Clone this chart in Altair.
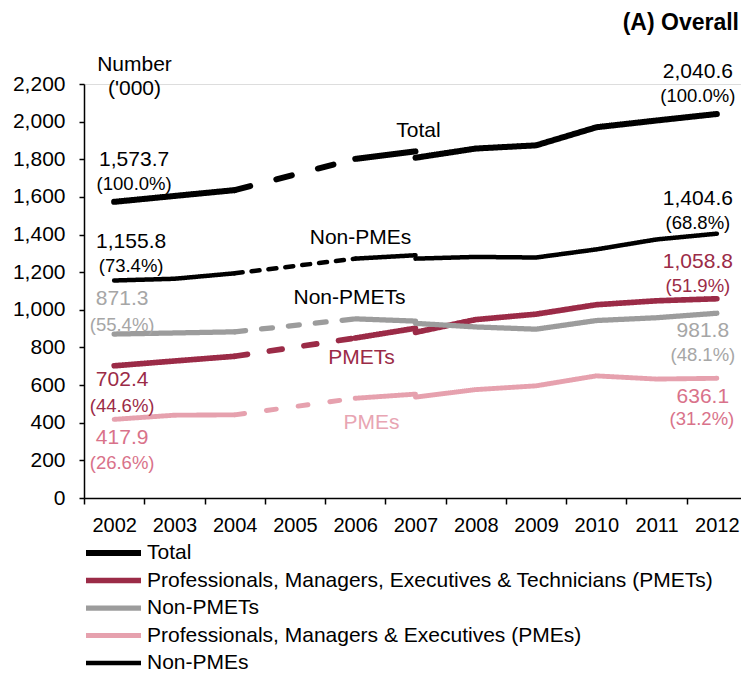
import altair as alt
import pandas as pd

# ---------------- data ----------------
years_old = [2002, 2003, 2004, 2006, 2007]
years_new = [2007, 2008, 2009, 2010, 2011, 2012]

series_names = [
    "Total",
    "Professionals, Managers, Executives & Technicians (PMETs)",
    "Non-PMETs",
    "Professionals, Managers & Executives (PMEs)",
    "Non-PMEs",
]
short_names = ["Total", "PMETs", "Non-PMETs", "PMEs", "Non-PMEs"]

total_old = [1573.7, 1605, 1636, 1802, 1842]
total_new = [1808, 1857, 1874, 1970, 2006, 2040.6]
pmets_old = [702.4, 728, 753, 850, 902]
pmets_new = [880, 948, 977, 1027, 1048, 1058.8]
nonpmets_old = [871.3, 877, 883, 952, 940]
nonpmets_new = [928, 909, 897, 943, 958, 981.8]
pmes_old = [417.9, 440, 442, 530, 552]
pmes_new = [536, 576, 596, 649, 632, 636.1]
nonpmes_old = [1155.8, 1165, 1194, 1272, 1290]
nonpmes_new = [1272, 1281, 1278, 1321, 1374, 1404.6]

olds = [total_old, pmets_old, nonpmets_old, pmes_old, nonpmes_old]
news = [total_new, pmets_new, nonpmets_new, pmes_new, nonpmes_new]

# ---------------- styles ----------------
FONT = "Liberation Sans"
line_colors = ["#000000", "#9b2b47", "#9c9c9c", "#e6a1ae", "#000000"]
line_widths = [6, 4.5, 3.5, 4.5, 2]
dash_patterns = [[16, 27], [13, 22], [11, 16], [10, 22], [8, 9]]
label_colors = ["#000000", "#9b2b47", "#a6a6a6", "#d9728a", "#000000"]
name_colors = ["#000000", "#9b2b47", "#000000", "#e8a5b3", "#000000"]
NUM_FS, PCT_FS, NAME_FS = 21, 18.5, 21

W, H = 663, 414
X0, X1 = 2001.5, 2012.5
Y0, Y1 = 0, 2200
PX_YEAR = W / (X1 - X0)
PX_UNIT = H / (Y1 - Y0)

# ---------------- line table ----------------
rows = []
for i, name in enumerate(series_names):
    old, new = olds[i], news[i]
    segs = [
        ("a", years_old[0:3], old[0:3], "solid"),
        ("b", years_old[2:4], old[2:4], short_names[i] + " dash"),
        ("c", years_old[3:5], old[3:5], "solid"),
        ("d", years_new, new, "solid"),
    ]
    for seg, ys, vs, dk in segs:
        for y, v in zip(ys, vs):
            rows.append({"series": name, "seg": f"{i}{seg}", "year": y,
                         "value": v, "dash": dk})
df = pd.DataFrame(rows)

dash_domain = ["solid"] + [s + " dash" for s in short_names]
dash_range = [[1, 0]] + dash_patterns

# ---------------- annotations (anchored to data points, pixel offsets) ----------------
def fmt_num(v):
    return f"{v:,.1f}"

ann_rows = []
# (series index, which end, number dx, number dy, pct dx, pct dy)
ends = [
    (0, "start", 20, -42, 20, -18),
    (4, "start", 17, -38, 17, -14),
    (2, "start", 8, -35, 8, -9),
    (1, "start", 8, 14, 8, 40),
    (3, "start", 8, 19, 8, 44),
    (0, "end", -19, -42, -19, -18),
    (4, "end", -19, -35, -19, -11),
    (1, "end", -19, -37, -19, -13),
    (2, "end", -14, 18, -14, 42),
    (3, "end", -14, 19, -15, 41),
]
for si, end, ndx, ndy, pdx, pdy in ends:
    if end == "start":
        yr, val, tot = years_old[0], olds[si][0], total_old[0]
    else:
        yr, val, tot = years_new[-1], news[si][-1], total_new[-1]
    pct = f"({val / tot * 100:.1f}%)"
    ann_rows.append({"label": fmt_num(val), "year": yr + ndx / PX_YEAR,
                     "value": val - ndy / PX_UNIT, "tcol": label_colors[si], "fs": NUM_FS})
    ann_rows.append({"label": pct, "year": yr + pdx / PX_YEAR,
                     "value": val - pdy / PX_UNIT, "tcol": label_colors[si], "fs": PCT_FS})

# series name labels anchored to the 2007 (old series) point
names_pos = [(0, 3, -20), (4, -55, -17), (2, -66, -23), (1, -54, 30), (3, -44, 29)]
for si, dx, dy in names_pos:
    yr, val = years_old[-1], olds[si][-1]
    ann_rows.append({"label": short_names[si], "year": yr + dx / PX_YEAR,
                     "value": val - dy / PX_UNIT, "tcol": name_colors[si], "fs": NAME_FS})
ann_df = pd.DataFrame(ann_rows)

# ---------------- scales / axes ----------------
xscale = alt.Scale(domain=[X0, X1], nice=False, zero=False)
yscale = alt.Scale(domain=[Y0, Y1], nice=False)

xaxis = alt.Axis(
    values=[X0 + i for i in range(12)],
    labelExpr="datum.value < 2012 ? format(datum.value + 0.5, 'd') : ''",
    labelOffset=PX_YEAR / 2, title=None, grid=False,
    domainColor="black", domainWidth=1.5, tickColor="black", tickWidth=1.5, tickSize=6,
    labelFont=FONT, labelFontSize=20, labelColor="black", labelPadding=11,
    labelOverlap=False, labelFlush=False, labelBound=False,
)
yaxis = alt.Axis(
    values=list(range(0, 2201, 200)), format=",.0f", grid=False,
    title=["Number", "('000)"], titleAngle=0, titleAlign="center",
    titleBaseline="alphabetic", titleX=50, titleY=-14, titleFont=FONT,
    titleFontSize=21, titleFontWeight="normal", titleColor="black", titleLineHeight=24,
    domainColor="black", domainWidth=1.5, tickColor="black", tickWidth=1.5, tickSize=5,
    labelFont=FONT, labelFontSize=21, labelColor="black", labelPadding=14,
)

legend = alt.Legend(
    title=None, orient="none", legendX=-1, legendY=459, direction="vertical",
    symbolType="stroke", symbolSize=3025, clipHeight=20, rowPadding=6.5,
    labelFont=FONT, labelFontSize=21, labelColor="black", labelLimit=700,
    labelOffset=3, symbolOffset=0, padding=0,
)

lines = alt.Chart(df).mark_line(strokeCap="round", strokeJoin="round").encode(
    x=alt.X("year:Q", scale=xscale, axis=xaxis),
    y=alt.Y("value:Q", scale=yscale, axis=yaxis),
    color=alt.Color("series:N", sort=series_names,
                    scale=alt.Scale(domain=series_names, range=line_colors), legend=legend),
    strokeWidth=alt.StrokeWidth("series:N", sort=series_names,
                                scale=alt.Scale(domain=series_names, range=line_widths), legend=legend),
    strokeDash=alt.StrokeDash("dash:N", scale=alt.Scale(domain=dash_domain, range=dash_range), legend=None),
    detail="seg:N",
)

ann = alt.Chart(ann_df).mark_text(font=FONT, align="center", baseline="middle").encode(
    x=alt.X("year:Q", scale=xscale, axis=xaxis),
    y=alt.Y("value:Q", scale=yscale, axis=yaxis),
    text="label:N",
    color=alt.Color("tcol:N", scale=None),
    size=alt.Size("fs:Q", scale=None),
)

chart = alt.layer(lines, ann).properties(
    width=W, height=H,
    title=alt.Title("(A) Overall", anchor="end", frame="group", fontSize=23,
                    fontWeight="bold", font=FONT, color="black", dy=-14, dx=-8),
    padding={"left": 76, "top": 76, "right": -6, "bottom": 176},
    autosize=alt.AutoSizeParams(type="none"),
).configure_view(stroke=None).configure(background="white")

chart.save("out.html", embed_options={"renderer": "svg", "actions": False})
